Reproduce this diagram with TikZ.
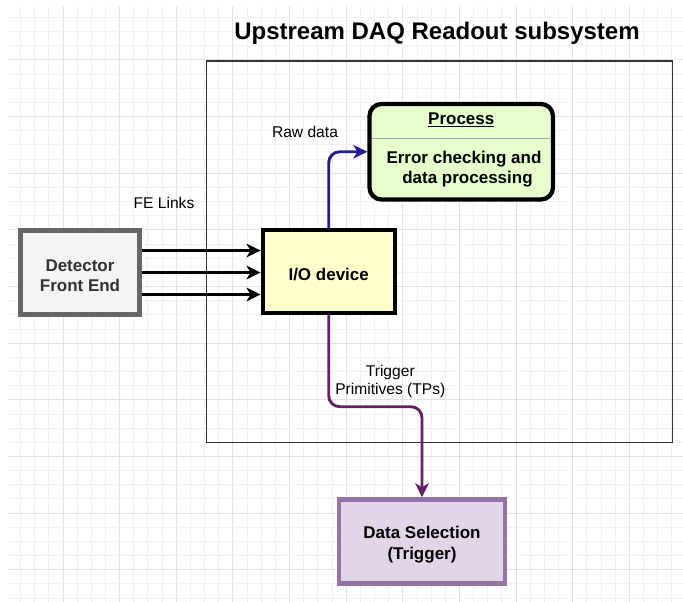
\documentclass[tikz,border=0pt]{standalone}
\usepackage{fontspec}
\setmainfont{Liberation Sans}
\usetikzlibrary{arrows.meta,calc}

\definecolor{gridminor}{HTML}{F1F1F1}
\definecolor{gridmajor}{HTML}{E2E2E2}
\definecolor{frameline}{HTML}{333333}
\definecolor{procfill}{HTML}{E6FFCC}
\definecolor{iofill}{HTML}{FFFFCC}
\definecolor{detfill}{HTML}{F5F5F5}
\definecolor{detline}{HTML}{666666}
\definecolor{dettext}{HTML}{333333}
\definecolor{selfill}{HTML}{E1D5E7}
\definecolor{selline}{HTML}{9673A6}
\definecolor{rawline}{HTML}{231C8C}
\definecolor{tpline}{HTML}{641F66}
\definecolor{sepline}{HTML}{A6A6A6}

% strut that lowers the text block a little inside its box
\newcommand{\boxstrut}{\rule{0pt}{18.5pt}}

\tikzset{
  box/.style={draw, line width=4.25pt, rectangle, align=center, inner sep=0pt,
    font=\fontsize{17}{20.6}\selectfont\bfseries},
  label text/.style={font=\fontsize{15.6}{18.3}\selectfont, align=center, inner sep=0pt},
  link/.style={line width=2.9pt, -{Stealth[length=14pt,width=13.5pt,inset=4pt]}},
}

\begin{document}
\begin{tikzpicture}[x=1pt,y=-1pt]
  \useasboundingbox (0,0) rectangle (683,602);

  % background grid
  \begin{scope}
    \clip (8.5,6.5) rectangle (683,602);
    \foreach \i in {0,...,48} {
      \pgfmathtruncatemacro{\m}{mod(\i,4)}
      \ifnum\m=0
        \draw[gridmajor, line width=1pt] ({6.36+14.16*\i},0) -- ({6.36+14.16*\i},602);
      \else
        \draw[gridminor, line width=1pt] ({6.36+14.16*\i},0) -- ({6.36+14.16*\i},602);
      \fi
    }
    \foreach \j in {0,...,43} {
      \pgfmathtruncatemacro{\m}{mod(\j,4)}
      \ifnum\m=0
        \draw[gridmajor, line width=1pt] (0,{3.36+14.16*\j}) -- (683,{3.36+14.16*\j});
      \else
        \draw[gridminor, line width=1pt] (0,{3.36+14.16*\j}) -- (683,{3.36+14.16*\j});
      \fi
    }
  \end{scope}

  % subsystem frame and title
  \node[draw=frameline, line width=1.4pt, minimum width=465.8pt, minimum height=381.3pt, inner sep=0pt]
    (frame) at (439.6,251.65) {};
  \node[font=\fontsize{24}{28}\selectfont\bfseries, inner sep=0pt] (title) at (437,33) {Upstream DAQ Readout subsystem};

  % blocks
  \node[box, draw=detline, fill=detfill, text=dettext, minimum width=119.2pt, minimum height=84.2pt]
    (det) at (80,272.5) {\boxstrut Detector\\Front End};
  \node[box, fill=iofill, minimum width=132pt, minimum height=82.7pt]
    (io) at (328.7,271.65) {\boxstrut I/O device};
  \node[box, fill=procfill, rounded corners=12pt, minimum width=183.5pt, minimum height=95.5pt]
    (proc) at (461.25,151.75) {};
  \node[box, draw=selline, fill=selfill, minimum width=166.4pt, minimum height=84.2pt]
    (sel) at (422,541.5) {\boxstrut Data Selection\\(Trigger)};

  % process header and body
  \draw[sepline, line width=1.5pt] ([xshift=4.25pt]proc.west |- 0,138.3) -- ([xshift=-4.25pt]proc.east |- 0,138.3);
  \node[font=\fontsize{17}{20}\selectfont\bfseries, inner sep=0pt] (prochead) at (proc.center |- 0,119.5) {\underline{Process}};
  \node[font=\fontsize{17}{20}\selectfont\bfseries, align=center, inner sep=0pt] (procbody) at (464,169.6)
    {Error checking and\\\hspace*{7pt}data processing};

  % front-end links
  \foreach \dy in {22,0,-22}
    \draw[link] ([yshift=\dy pt]det.east) -- ([yshift=\dy pt]det.east -| io.west);
  \node[label text] (felinks) at (164,202.5) {FE Links};

  % raw data to processing
  \draw[link, rawline, rounded corners=11pt] (io.north) |- (proc.west);
  \node[label text] (rawlabel) at (305,131.5) {Raw data};

  % trigger primitives to data selection
  \coordinate (tpbend) at (422,406.7);
  \draw[link, tpline, rounded corners=11pt] (io.south) |- (tpbend) -- (sel.north);
  \node[label text] (tplabel) at (390.3,381.4) {Trigger\\Primitives (TPs)};
\end{tikzpicture}
\end{document}
